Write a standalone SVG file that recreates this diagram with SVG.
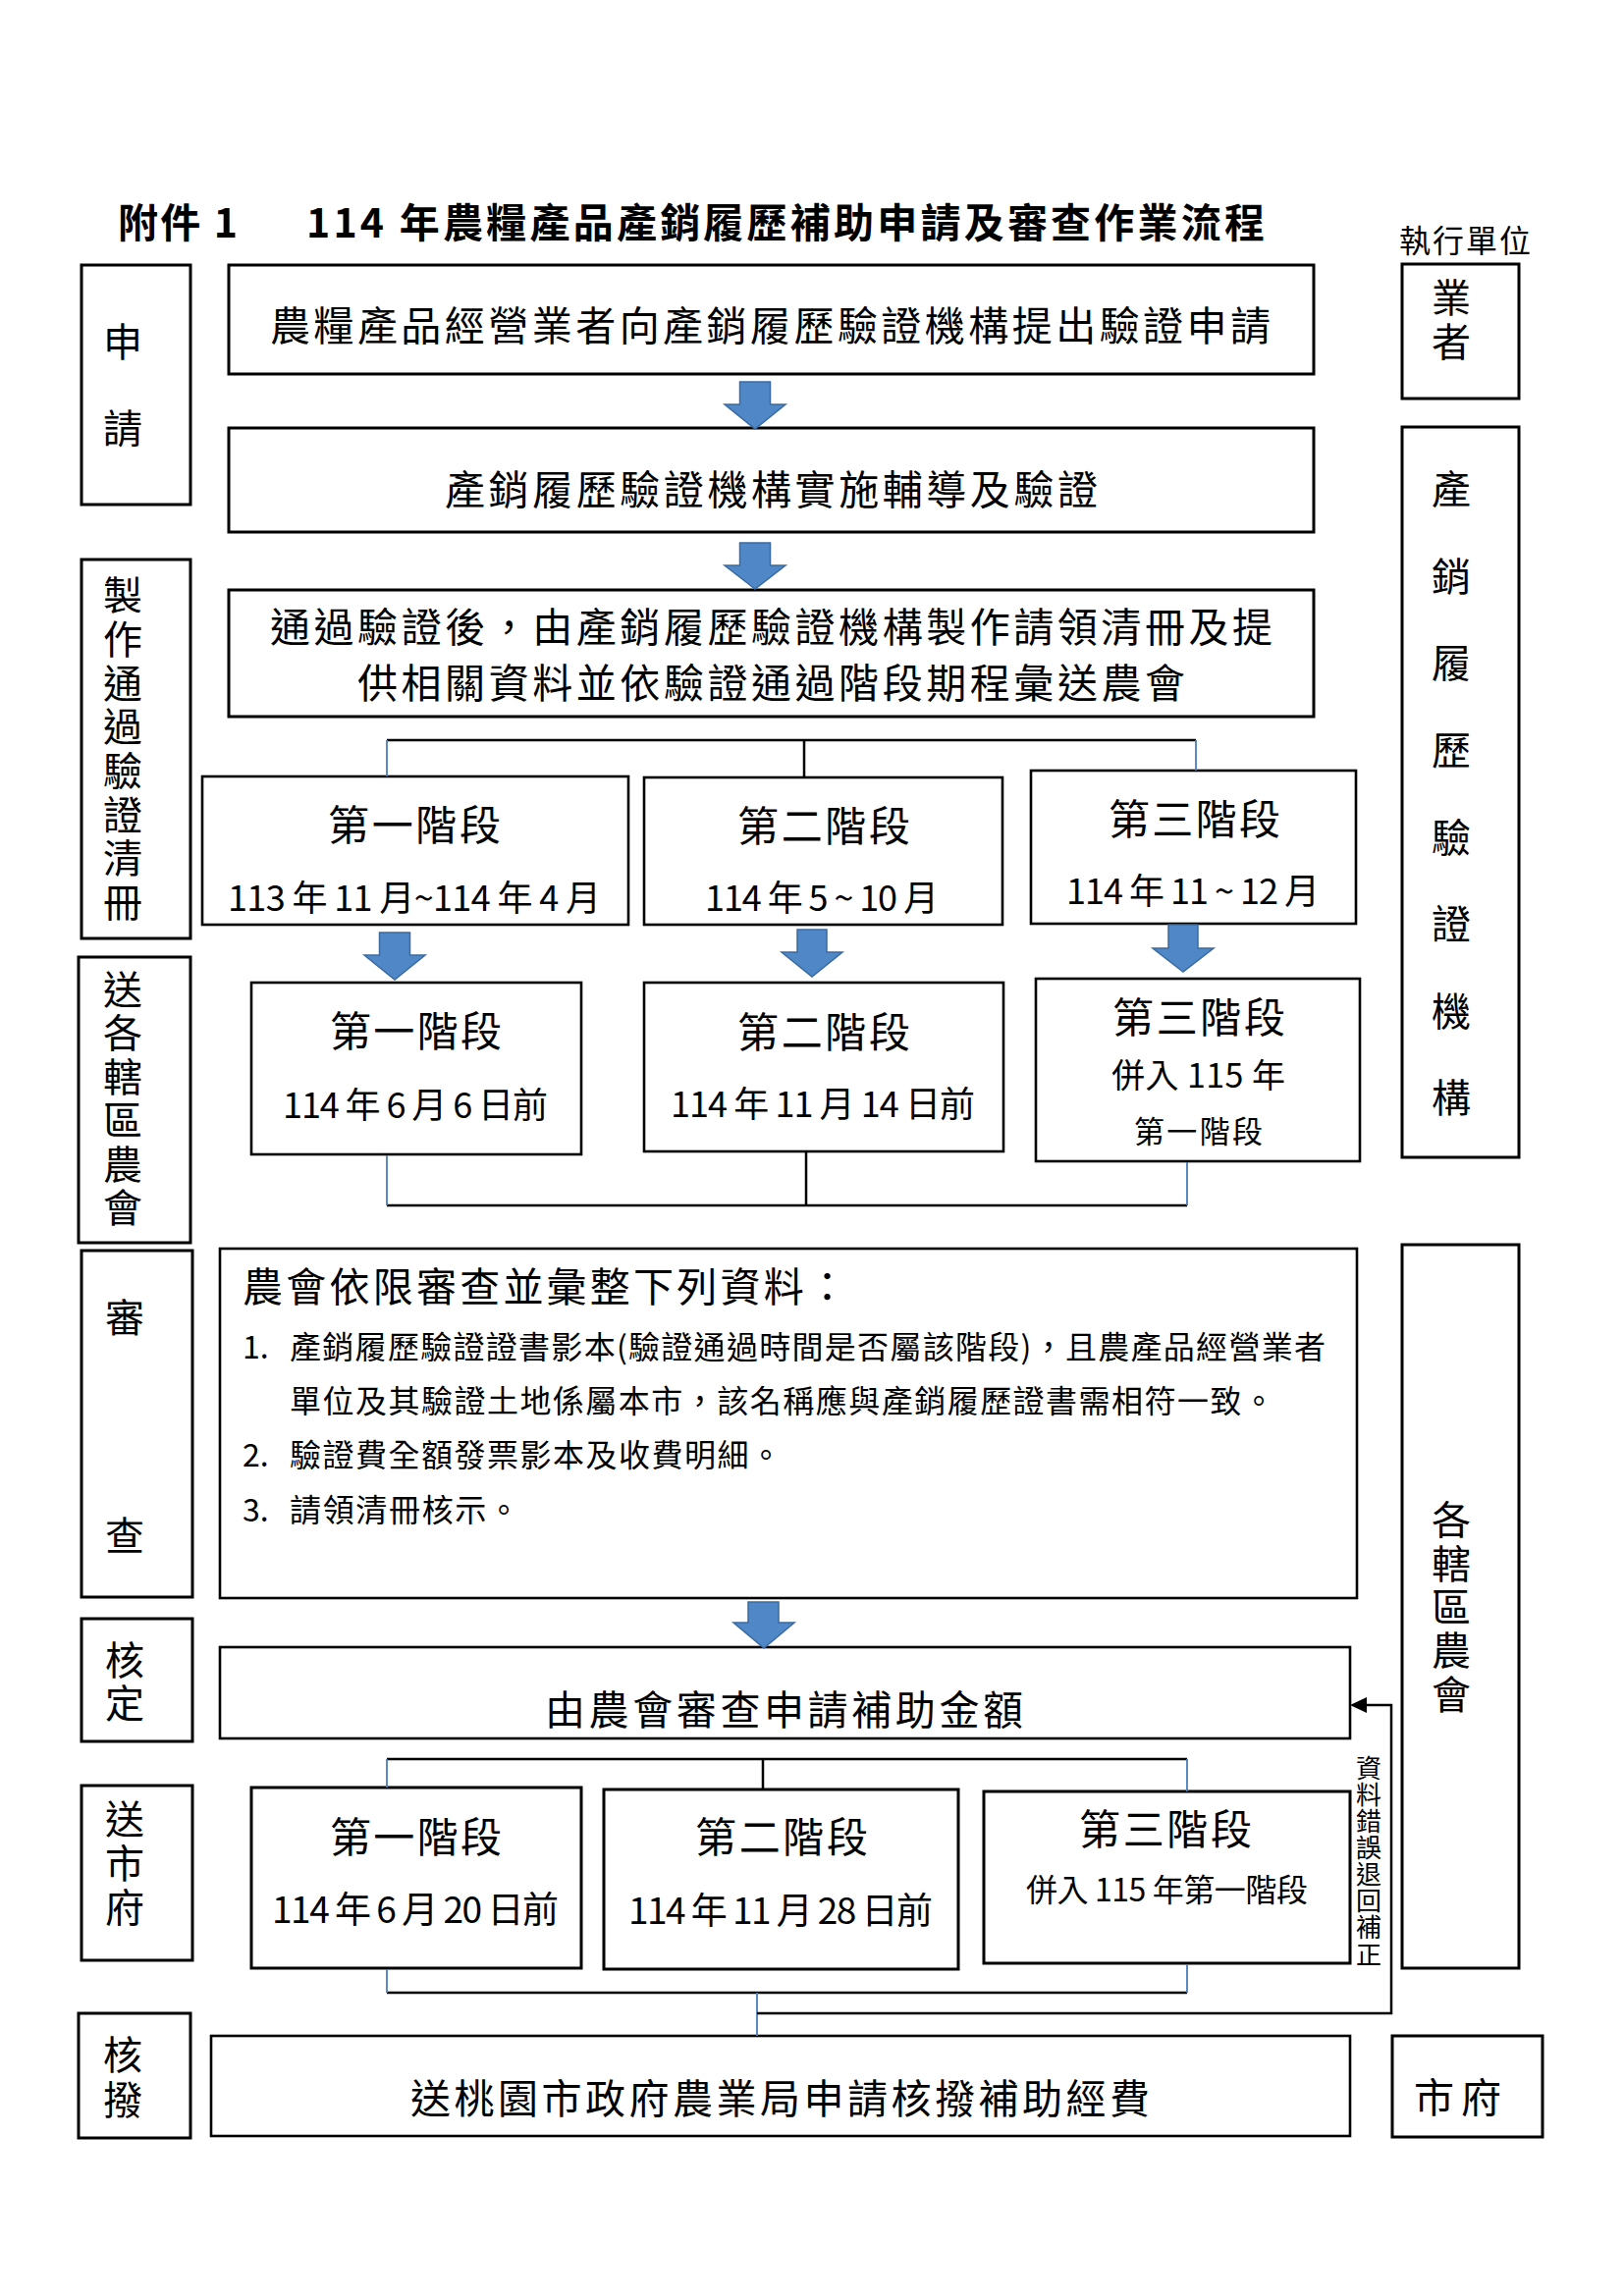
<svg xmlns="http://www.w3.org/2000/svg" width="1654" height="2339" viewBox="0 0 1654 2339">
<style>
text{font-family:"Noto Sans CJK TC","Noto Sans CJK SC",sans-serif;fill:#000}
.box{fill:#fff;stroke:#000;stroke-width:3}
.sbox{fill:#fff;stroke:#000;stroke-width:2.6}
.lab{font-size:40px;writing-mode:vertical-rl}
.main{font-size:41px}
.stg{font-size:42px}
.dt{font-size:36px}
.dt2{font-size:37px}
.sm{font-size:32px}
.ttl{font-size:41px;font-weight:700}
.ln{stroke:#000;stroke-width:2.5;fill:none}
.bl{stroke:#4a7ebb;stroke-width:1.8;fill:none}
.arr{fill:#4f87c7;stroke:#3a6aa0;stroke-width:1.5}
.vt{font-size:26px;writing-mode:vertical-rl;letter-spacing:1.1px}
</style>
<rect width="1654" height="2339" fill="#fff"/>

<g id="title">
<text class="ttl" x="120" y="242" textLength="122">附件 1</text>
<text class="ttl" x="312" y="242" textLength="976">114 年農糧產品產銷履歷補助申請及審查作業流程</text>
<text x="1425" y="257" font-size="32" textLength="134">執行單位</text>
</g>

<!-- left column -->
<g id="lane-apply">
<rect class="box" x="83" y="270" width="111" height="244"/>
<text class="lab" x="125" y="328" letter-spacing="48">申請</text>
</g>
<g id="lane-list">
<rect class="box" x="83" y="570" width="111" height="386"/>
<text class="lab" x="125" y="586" letter-spacing="4.7">製作通過驗證清冊</text>
</g>
<g id="lane-send">
<rect class="box" x="80" y="975" width="114" height="291"/>
<text class="lab" x="125" y="987.5" letter-spacing="4.5">送各轄區農會</text>
</g>
<g id="lane-review">
<rect class="box" x="83" y="1274" width="113" height="353"/>
<text class="lab" x="127" y="1321.5" letter-spacing="182">審查</text>
</g>
<g id="lane-approve">
<rect class="box" x="83" y="1649" width="113" height="125"/>
<text class="lab" x="127" y="1671" letter-spacing="3.5">核定</text>
</g>
<g id="lane-city">
<rect class="box" x="83" y="1819" width="113" height="178"/>
<text class="lab" x="127" y="1833" letter-spacing="4.75">送市府</text>
</g>
<g id="lane-grant">
<rect class="box" x="80" y="2051" width="114" height="127"/>
<text class="lab" x="125" y="2072.5" letter-spacing="6">核撥</text>
</g>

<!-- right column -->
<g id="unit-operator">
<rect class="box" x="1428" y="269" width="119" height="137"/>
<text class="lab" x="1478" y="282.5" letter-spacing="5.5">業者</text>
</g>
<g id="unit-cert">
<rect class="box" x="1428" y="435" width="119" height="744"/>
<text class="lab" x="1478" y="478" letter-spacing="48.6">產銷履歷驗證機構</text>
</g>
<g id="unit-farmers">
<rect class="box" x="1428" y="1268" width="119" height="737"/>
<text class="lab" x="1478" y="1528" letter-spacing="4.4">各轄區農會</text>
</g>
<g id="unit-city">
<rect class="box" x="1418" y="2074" width="153" height="103"/>
<text class="main" x="1440" y="2152" textLength="89">市府</text>
</g>

<!-- main flow -->
<g id="step-apply">
<rect class="box" x="233" y="270" width="1105" height="111"/>
<text class="main" x="275" y="347" textLength="1019">農糧產品經營業者向產銷履歷驗證機構提出驗證申請</text>
</g>
<g id="step-guide">
<rect class="box" x="233" y="436" width="1105" height="106"/>
<text class="main" x="453" y="514" textLength="665">產銷履歷驗證機構實施輔導及驗證</text>
</g>
<g id="step-list">
<rect class="box" x="233" y="601" width="1105" height="129"/>
<text class="main" x="275" y="654" textLength="1021">通過驗證後，由產銷履歷驗證機構製作請領清冊及提</text>
<text class="main" x="364" y="711" textLength="843">供相關資料並依驗證通過階段期程彙送農會</text>
</g>

<g id="stage-a1">
<rect class="sbox" x="206" y="791" width="434" height="151"/>
<text class="stg" x="334" y="856" textLength="176">第一階段</text>
<text class="dt" x="232" y="928" textLength="380">113 年 11 月~114 年 4 月</text>
</g>
<g id="stage-a2">
<rect class="sbox" x="656" y="792" width="365" height="150"/>
<text class="stg" x="751" y="857" textLength="176">第二階段</text>
<text class="dt" x="718" y="928" textLength="238">114 年 5 ~ 10 月</text>
</g>
<g id="stage-a3">
<rect class="sbox" x="1050" y="785" width="331" height="156"/>
<text class="stg" x="1129" y="850" textLength="175">第三階段</text>
<text class="dt" x="1086" y="921" textLength="258">114 年 11 ~ 12 月</text>
</g>

<g id="stage-b1">
<rect class="sbox" x="256" y="1001" width="336" height="175"/>
<text class="stg" x="336" y="1066" textLength="175">第一階段</text>
<text class="dt" x="288" y="1139" textLength="270">114 年 6 月 6 日前</text>
</g>
<g id="stage-b2">
<rect class="sbox" x="656" y="1001" width="366" height="172"/>
<text class="stg" x="751" y="1067" textLength="176">第二階段</text>
<text class="dt" x="683" y="1138" textLength="310">114 年 11 月 14 日前</text>
</g>
<g id="stage-b3">
<rect class="sbox" x="1055" y="997" width="330" height="186"/>
<text class="stg" x="1133" y="1052" textLength="176">第三階段</text>
<text x="1132" y="1108" font-size="34" textLength="177">併入 115 年</text>
<text x="1155" y="1164" font-size="31" textLength="131">第一階段</text>
</g>

<g id="step-review">
<rect class="sbox" x="224" y="1272" width="1158" height="356"/>
<text class="main" x="247" y="1326" textLength="616">農會依限審查並彙整下列資料：</text>
<text class="sm" x="247" y="1384">1.</text>
<text class="sm" x="295" y="1384" textLength="1055">產銷履歷驗證證書影本(驗證通過時間是否屬該階段)，且農產品經營業者</text>
<text class="sm" x="295" y="1439" textLength="1003">單位及其驗證土地係屬本市，該名稱應與產銷履歷證書需相符一致。</text>
<text class="sm" x="247" y="1494">2.</text>
<text class="sm" x="295" y="1494" textLength="501">驗證費全額發票影本及收費明細。</text>
<text class="sm" x="247" y="1550">3.</text>
<text class="sm" x="295" y="1550" textLength="234">請領清冊核示。</text>
</g>

<g id="step-approve">
<rect class="sbox" x="224" y="1678" width="1151" height="93"/>
<text class="main" x="555" y="1757" textLength="487">由農會審查申請補助金額</text>
</g>

<g id="stage-c1">
<rect class="box" x="256" y="1821" width="336" height="184"/>
<text class="stg" x="336" y="1887" textLength="175">第一階段</text>
<text class="dt2" x="277" y="1959" textLength="292">114 年 6 月 20 日前</text>
</g>
<g id="stage-c2">
<rect class="box" x="615" y="1823" width="361" height="183"/>
<text class="stg" x="708" y="1887" textLength="176">第二階段</text>
<text class="dt2" x="640" y="1960" textLength="310">114 年 11 月 28 日前</text>
</g>
<g id="stage-c3">
<rect class="box" x="1002" y="1825" width="373" height="175"/>
<text class="stg" x="1099" y="1879" textLength="176">第三階段</text>
<text class="sm" x="1045" y="1937" textLength="287">併入 115 年第一階段</text>
</g>

<g id="step-grant">
<rect class="sbox" x="215" y="2074" width="1160" height="102"/>
<text class="main" x="418" y="2153" textLength="753">送桃園市政府農業局申請核撥補助經費</text>
</g>

<!-- connectors -->
<g id="connectors">
<polygon class="arr" points="753.5,389 784.5,389 784.5,412 800,412 769,437 738,412 753.5,412"/>
<polygon class="arr" points="753.5,553 784.5,553 784.5,576 800,576 769,600 738,576 753.5,576"/>
<polygon class="arr" points="386.5,950 417.5,950 417.5,973 433,973 402,998 371,973 386.5,973"/>
<polygon class="arr" points="812,947 842,947 842,970 858,970 827,995 796,970 812,970"/>
<polygon class="arr" points="1190,942 1220,942 1220,966 1236,966 1205,990 1174,966 1190,966"/>
<polygon class="arr" points="762,1632 793,1632 793,1653 809,1653 778,1679 747,1653 762,1653"/>

<path class="ln" d="M394 754H1218M819 754V792"/>
<path class="bl" d="M394 754V791M1218 754V785"/>

<path class="ln" d="M394 1228H1209M821 1173V1228"/>
<path class="bl" d="M394 1177V1228M1209 1184V1228"/>

<path class="ln" d="M394 1792H1209M777 1792V1823"/>
<path class="bl" d="M394 1792V1821M1209 1792V1825"/>

<path class="ln" d="M394 2030H1209"/>
<path class="bl" d="M394 2006V2030M1209 2001V2030M771 2030V2074"/>

<path class="ln" d="M771 2051H1417V1737H1390"/>
<polygon points="1375,1737 1392,1729 1392,1745" fill="#000"/>
<text class="vt" x="1394" y="1788">資料錯誤退回補正</text>
</g>
</svg>
